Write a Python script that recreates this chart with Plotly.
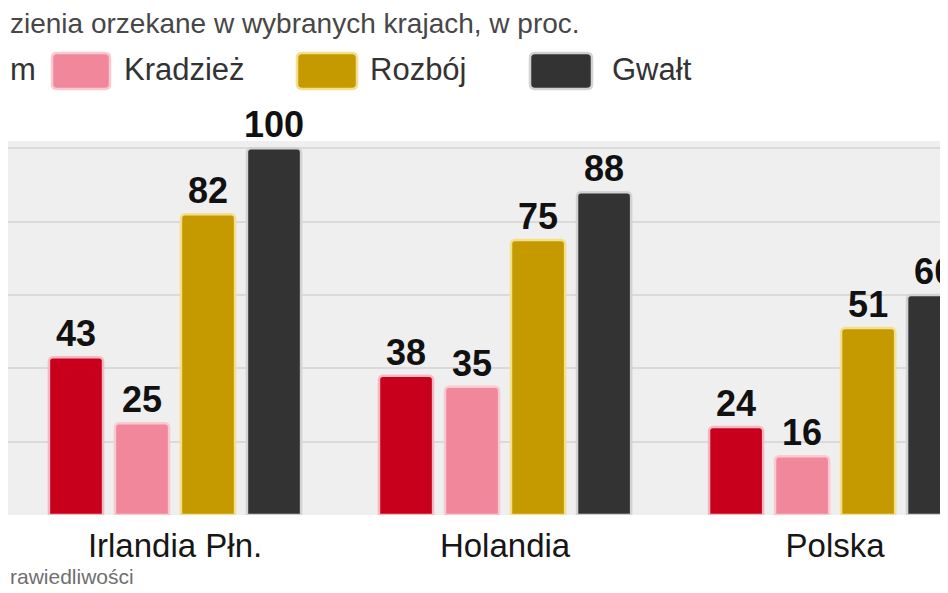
import plotly.graph_objects as go

# ── data ──────────────────────────────────────────────────────────────────────
countries = ["Irlandia Płn.", "Holandia", "Polska"]
series_names = ["Ogółem", "Kradzież", "Rozbój", "Gwałt"]
ogolem = [43, 38, 24]
kradziez = [25, 35, 16]
rozboj = [82, 75, 51]
gwalt = [100, 88, 60]

title_text = "zienia orzekane w wybranych krajach, w proc."
source_text = "rawiedliwości"
legend_cut_text = "m"

FONT = "Liberation Sans, Arial, sans-serif"

fills = ["#c8001c", "#f0879a", "#c49a00", "#333333"]
edges = ["#f6b9c2", "#f9c9cf", "#f2e08c", "#d2d2d2"]

# the page body has an 8px margin, so the figure starts 8px in
OFF = 8
W, H = 948 - OFF, 593 - OFF
PLOT_TOP, PLOT_BOTTOM = 141, 515          # page pixels of the gray plot area

fig = go.Figure()
for name, vals, fc, ec in zip(series_names, [ogolem, kradziez, rozboj, gwalt], fills, edges):
    fig.add_trace(go.Bar(
        x=countries, y=vals, name=name,
        marker=dict(color=fc, line=dict(color=ec, width=2.5), cornerradius=4),
        text=[str(v) for v in vals], textposition="outside",
        constraintext="none", cliponaxis=False,
        textfont=dict(family=FONT, size=36, color="#111111", weight="bold"),
        showlegend=False,
    ))


def px_x(v):
    # page pixel -> paper x
    return (v - OFF) / W


def px_y(v):
    # page pixel -> paper y
    return (PLOT_BOTTOM - v) / (PLOT_BOTTOM - PLOT_TOP)


def rounded_rect(x0, y0, x1, y1, r=5):
    X = lambda v: f"{px_x(v):.5f}"
    Y = lambda v: f"{px_y(v):.5f}"
    return (f"M {X(x0 + r)} {Y(y0)} L {X(x1 - r)} {Y(y0)} Q {X(x1)} {Y(y0)} {X(x1)} {Y(y0 + r)} "
            f"L {X(x1)} {Y(y1 - r)} Q {X(x1)} {Y(y1)} {X(x1 - r)} {Y(y1)} "
            f"L {X(x0 + r)} {Y(y1)} Q {X(x0)} {Y(y1)} {X(x0)} {Y(y1 - r)} "
            f"L {X(x0)} {Y(y0 + r)} Q {X(x0)} {Y(y0)} {X(x0 + r)} {Y(y0)} Z")


# legend drawn by hand (first entry is cut by the crop)
legend_items = [(52, 110, 122, series_names[1]), (297, 357, 368, series_names[2]),
                (530, 592, 610, series_names[3])]
for (sx0, sx1, tx, label), fc, ec in zip(legend_items, fills[1:], edges[1:]):
    fig.add_shape(type="path", xref="paper", yref="paper",
                  path=rounded_rect(sx0, 53, sx1, 89),
                  fillcolor=fc, line=dict(color=ec, width=2.5))
    fig.add_annotation(x=px_x(tx), y=px_y(70), xref="paper", yref="paper",
                       xanchor="left", yanchor="middle", showarrow=False, text=label,
                       font=dict(family=FONT, size=31, color="#333333"))
fig.add_annotation(x=0, y=px_y(70), xref="paper", yref="paper",
                   xanchor="left", yanchor="middle", showarrow=False, text=legend_cut_text,
                   font=dict(family=FONT, size=31, color="#333333"))

fig.add_annotation(x=0, y=px_y(23), xref="paper", yref="paper",
                   xanchor="left", yanchor="middle", showarrow=False, text=title_text,
                   font=dict(family=FONT, size=28, color="#474747"))
fig.add_annotation(x=0, y=px_y(576), xref="paper", yref="paper",
                   xanchor="left", yanchor="middle", showarrow=False, text=source_text,
                   font=dict(family=FONT, size=21, color="#707070"))

fig.update_layout(
    width=W, height=H,
    margin=dict(l=0, r=0, t=PLOT_TOP - OFF, b=OFF + H - PLOT_BOTTOM),
    barmode="group", bargap=0.2, bargroupgap=0.18,
    paper_bgcolor="white", plot_bgcolor="#efefef",
    xaxis=dict(range=[-0.506, 2.342], showgrid=False, zeroline=False, ticks="",
               ticklabelstandoff=8,
               tickfont=dict(family=FONT, size=33, color="#161616")),
    yaxis=dict(range=[0, 102], dtick=20, showticklabels=False, zeroline=False,
               gridcolor="#dadada", gridwidth=2),
)

fig.write_html("out.html")
